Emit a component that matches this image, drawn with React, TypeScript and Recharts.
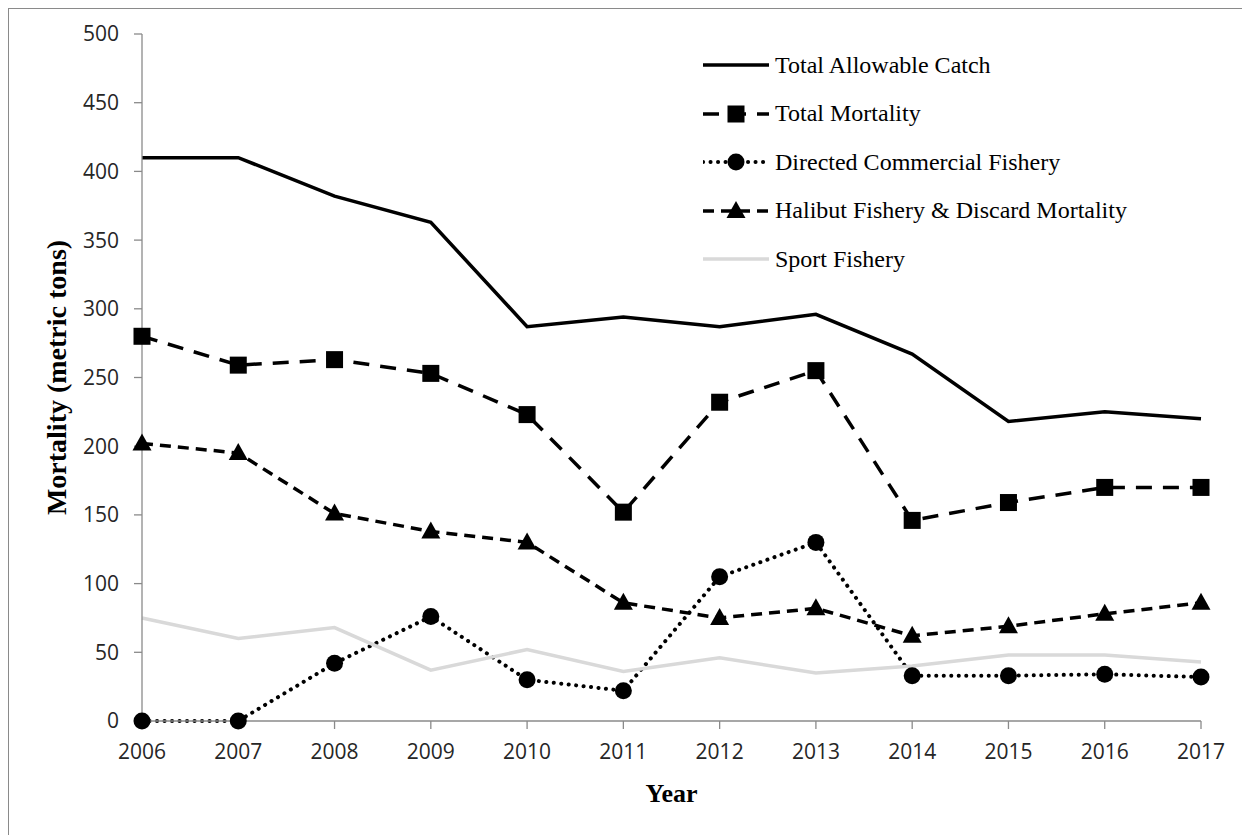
import React from 'react';
import { LineChart, Line, XAxis, YAxis, Legend } from 'recharts';

const years = ['2006', '2007', '2008', '2009', '2010', '2011', '2012', '2013', '2014', '2015', '2016', '2017'];
const totalAllowableCatch = [410, 410, 382, 363, 287, 294, 287, 296, 267, 218, 225, 220];
const totalMortality = [280, 259, 263, 253, 223, 152, 232, 255, 146, 159, 170, 170];
const directedCommercialFishery = [0, 0, 42, 76, 30, 22, 105, 130, 33, 33, 34, 32];
const halibutFisheryDiscard = [202, 195, 151, 138, 130, 86, 75, 82, 62, 69, 78, 86];
const sportFishery = [75, 60, 68, 37, 52, 36, 46, 35, 40, 48, 48, 43];
const yTicks = [0, 50, 100, 150, 200, 250, 300, 350, 400, 450, 500];
const seriesOrder = ['tac', 'tm', 'dcf', 'hf', 'sport'];
const seriesNames: Record<string, string> = {
  tac: 'Total Allowable Catch',
  tm: 'Total Mortality',
  dcf: 'Directed Commercial Fishery',
  hf: 'Halibut Fishery & Discard Mortality',
  sport: 'Sport Fishery',
};

const data = years.map((year, i) => ({
  year,
  tac: totalAllowableCatch[i],
  tm: totalMortality[i],
  dcf: directedCommercialFishery[i],
  hf: halibutFisheryDiscard[i],
  sport: sportFishery[i],
}));

const renderSquare = (cx: number, cy: number, key?: any) => (
  <rect key={key} x={cx - 8.5} y={cy - 8.5} width={17} height={17} fill="#000" />
);
const renderCircle = (cx: number, cy: number, key?: any) => (
  <circle key={key} cx={cx} cy={cy} r={8.5} fill="#000" />
);
const renderTriangle = (cx: number, cy: number, key?: any) => (
  <polygon key={key} points={`${cx},${cy - 10} ${cx - 9.5},${cy + 7} ${cx + 9.5},${cy + 7}`} fill="#000" />
);

type Style = { stroke: string; width: number; dash?: string; cap?: 'round' | 'butt'; marker?: (cx: number, cy: number, key?: any) => any };
const styles: Record<string, Style> = {
  tac: { stroke: '#000', width: 3.5 },
  tm: { stroke: '#000', width: 3.5, dash: '16 11', marker: renderSquare },
  dcf: { stroke: '#000', width: 4, dash: '0.1 7.4', cap: 'round', marker: renderCircle },
  hf: { stroke: '#000', width: 3.5, dash: '11 7', marker: renderTriangle },
  sport: { stroke: '#d9d9d9', width: 3.5 },
};

const makeDot = (key: string) => {
  const st = styles[key];
  if (!st.marker) return false as const;
  return (props: any) => {
    const { cx, cy, index } = props;
    if (cx == null || cy == null) return <g key={`${key}-${index}`} />;
    return st.marker!(cx, cy, `${key}-${index}`);
  };
};

const LegendContent = () => {
  return (
    <div>
      {seriesOrder.map((k) => {
        const st = styles[k];
        return (
          <div key={k} style={{ height: 48.5, display: 'flex', alignItems: 'center' }}>
            <svg width={66} height={22} style={{ display: 'block' }}>
              <line x1={0} x2={66} y1={11} y2={11} stroke={st.stroke} strokeWidth={st.width}
                strokeDasharray={st.dash} strokeLinecap={st.cap || 'butt'} />
              {st.marker ? st.marker(33, 11) : null}
            </svg>
            <span style={{ marginLeft: 6, fontFamily: '"Liberation Serif", "Times New Roman", serif', fontSize: 24, color: '#000', whiteSpace: 'nowrap' }}>
              {seriesNames[k]}
            </span>
          </div>
        );
      })}
    </div>
  );
};

const tickStyle = { fontFamily: '"Open Sans", sans-serif', fontSize: 21, fill: '#262626' };
const titleStyle = { fontFamily: '"Liberation Serif", "Times New Roman", serif', fontWeight: 'bold' as const, fill: '#000' };

export default function App() {
  return (
    <div style={{ width: 1242, height: 827, borderTop: '1px solid #8a8a8a', borderLeft: '1px solid #8a8a8a', boxSizing: 'border-box', background: '#fff' }}>
      <LineChart width={1241} height={826} data={data} margin={{ top: 25, right: 49, bottom: 54, left: 0 }}>
        <XAxis
          dataKey="year"
          height={60}
          stroke="#8a8a8a"
          strokeWidth={1.3}
          tickSize={8}
          tickMargin={15}
          tick={tickStyle}
          interval={0}
          label={{
            content: (p: any) => {
              const vb = p.viewBox || {};
              const cx = vb.x + vb.width / 2;
              const cy = vb.y + 81;
              return (
                <text x={cx} y={cy} textAnchor="middle" style={{ ...titleStyle, fontSize: 26 }}>
                  Year
                </text>
              );
            },
          }}
        />
        <YAxis
          width={133}
          domain={[0, 500]}
          ticks={yTicks}
          interval={0}
          stroke="#8a8a8a"
          strokeWidth={1.3}
          tickSize={8}
          tickMargin={15}
          tick={tickStyle}
          label={{
            content: (p: any) => {
              const vb = p.viewBox || {};
              const cx = vb.x + 47;
              const cy = vb.y + vb.height / 2;
              return (
                <text x={cx} y={cy} textAnchor="middle" dominantBaseline="central" transform={`rotate(-90 ${cx} ${cy})`}
                  style={{ ...titleStyle, fontSize: 28 }}>
                  Mortality (metric tons)
                </text>
              );
            },
          }}
        />
        <Legend
          layout="vertical"
          align="center"
          verticalAlign="middle"
          content={LegendContent}
          wrapperStyle={{ position: 'absolute', left: 694, top: 32, width: 520, height: 250 }}
        />
        <Line type="linear" dataKey="tac" name={seriesNames.tac} stroke={styles.tac.stroke} strokeWidth={3.5} dot={false} activeDot={false} isAnimationActive={false} />
        <Line type="linear" dataKey="tm" name={seriesNames.tm} stroke="#000" strokeWidth={3.5} strokeDasharray={styles.tm.dash} dot={makeDot('tm')} activeDot={false} isAnimationActive={false} />
        <Line type="linear" dataKey="dcf" name={seriesNames.dcf} stroke="#000" strokeWidth={4} strokeDasharray={styles.dcf.dash} strokeLinecap="round" dot={makeDot('dcf')} activeDot={false} isAnimationActive={false} />
        <Line type="linear" dataKey="hf" name={seriesNames.hf} stroke="#000" strokeWidth={3.5} strokeDasharray={styles.hf.dash} dot={makeDot('hf')} activeDot={false} isAnimationActive={false} />
        <Line type="linear" dataKey="sport" name={seriesNames.sport} stroke={styles.sport.stroke} strokeWidth={3.5} dot={false} activeDot={false} isAnimationActive={false} />
      </LineChart>
    </div>
  );
}
